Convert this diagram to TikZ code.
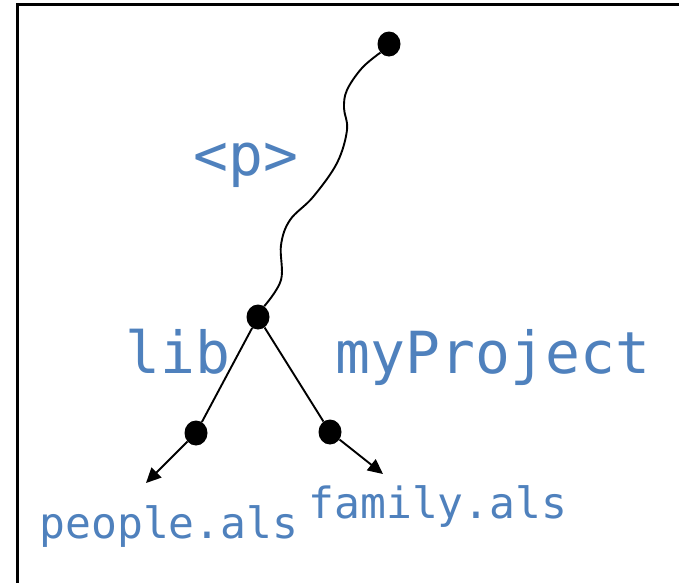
\documentclass[tikz,border=0pt]{standalone}
\usepackage{fontspec}
\newfontfamily\monofont{DejaVu Sans Mono}
\usetikzlibrary{arrows.meta,shapes.geometric}
\definecolor{txtblue}{RGB}{79,129,189}
\begin{document}
\begin{tikzpicture}[x=1pt,y=-1pt,
  dot/.style={ellipse,fill=black,inner sep=0pt,minimum width=23pt,minimum height=25pt},
  bigtxt/.style={text=txtblue,font=\monofont\fontsize{58}{60}\selectfont,inner sep=0pt,anchor=base},
  smalltxt/.style={text=txtblue,font=\monofont\fontsize{43}{45}\selectfont,inner sep=0pt,anchor=base},
  conn/.style={line width=1.9pt},
  arr/.style={line width=1.9pt,-{Triangle[length=15pt,width=14pt]}}]
\useasboundingbox (0,0) rectangle (679,582);
\fill[white] (0,0) rectangle (679,582);
\draw[line width=3pt] (17,590) -- (17,4) -- (690,4);

\node[dot] (top) at (389,44) {};
\node[dot] (mid) at (258,317) {};
\node[dot] (left) at (196,433) {};
\node[dot] (right) at (330,432) {};
\coordinate (lend) at (146,483);
\coordinate (rend) at (383,474);

\draw[conn] plot[smooth,tension=0.6] coordinates {(top.225) (362,68) (347,90) (344,108) (347,130) (337,163) (313,197) (290,220) (281,245) (281,280) (mid.60)};
\draw[conn] (mid) -- (left);
\draw[conn] (mid) -- (right);
\draw[arr] (left) -- (lend);
\draw[arr] (right) -- (rend);

\node[bigtxt] (p) at (246,175) {<p>};
\node[bigtxt] (lib) at (178,373) {lib};
\node[bigtxt] (proj) at (493,373) {myProject};
\node[smalltxt] (people) at (169,538) {people.als};
\node[smalltxt] (family) at (438,518) {family.als};
\end{tikzpicture}
\end{document}
